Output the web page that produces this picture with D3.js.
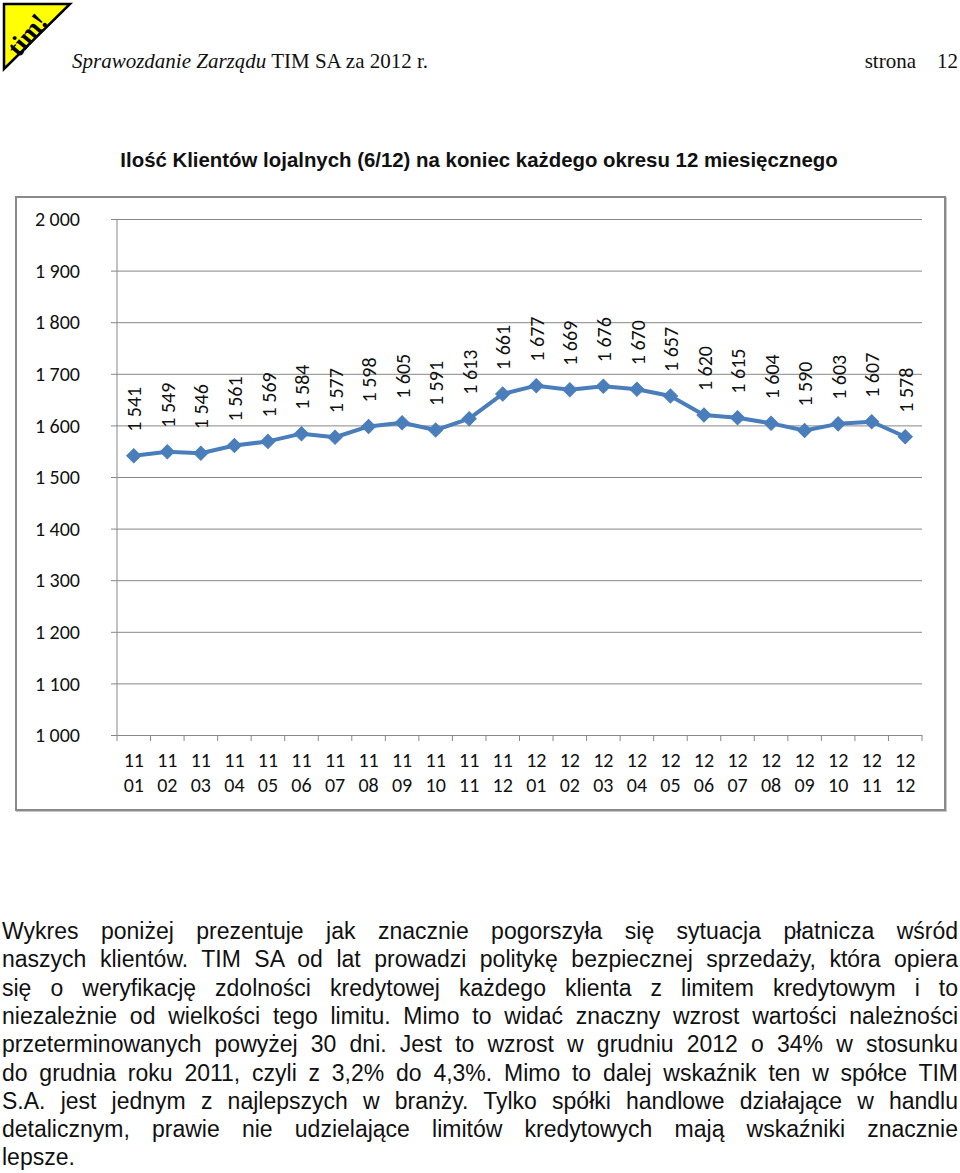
<!DOCTYPE html>
<html>
<head>
<meta charset="utf-8">
<script src="https://cdn.jsdelivr.net/npm/d3@7"></script>
<style>
  html, body { margin: 0; padding: 0; background: #fff; }
  svg { display: block; }
</style>
</head>
<body>
<div id="page"></div>
<script>
// data
var years  = ["11","11","11","11","11","11","11","11","11","11","11","11",
              "12","12","12","12","12","12","12","12","12","12","12","12"];
var months = ["01","02","03","04","05","06","07","08","09","10","11","12",
              "01","02","03","04","05","06","07","08","09","10","11","12"];
var loyalClients = [1541, 1549, 1546, 1561, 1569, 1584, 1577, 1598, 1605, 1591, 1613, 1661,
                    1677, 1669, 1676, 1670, 1657, 1620, 1615, 1604, 1590, 1603, 1607, 1578];
var yTicks = [1000, 1100, 1200, 1300, 1400, 1500, 1600, 1700, 1800, 1900, 2000];

var chartTitle = "Ilość Klientów lojalnych (6/12) na koniec każdego okresu 12 miesięcznego";
var paragraphLines = [
  "Wykres poniżej prezentuje jak znacznie pogorszyła się sytuacja płatnicza wśród",
  "naszych klientów. TIM SA od lat prowadzi politykę bezpiecznej sprzedaży, która opiera",
  "się o weryfikację zdolności kredytowej każdego klienta z limitem kredytowym i to",
  "niezależnie od wielkości tego limitu. Mimo to widać znaczny wzrost wartości należności",
  "przeterminowanych powyżej 30 dni. Jest to wzrost w grudniu 2012 o 34% w stosunku",
  "do grudnia roku 2011, czyli z 3,2% do 4,3%. Mimo to dalej wskaźnik ten w spółce TIM",
  "S.A. jest jednym z najlepszych w branży. Tylko spółki handlowe działające w handlu",
  "detalicznym, prawie nie udzielające limitów kredytowych mają wskaźniki znacznie",
  "lepsze."
];

var categories = years.map(function(d, i){ return d + " " + months[i]; });

// constants
var WIDTH = 960, HEIGHT = 1173;
var PLOT = {left: 117, right: 922, top: 219, bottom: 735};
var LINE_COLOR = "#4a7ebb";
var GRID_COLOR = "#878787";
var CHART_FONT = "Carlito, Calibri, Lato, sans-serif";
var CHART_FONT_SIZE = 20;

var svg = d3.select("#page").append("svg")
    .attr("width", WIDTH)
    .attr("height", HEIGHT);

// --- page header: logo, running title, page number
var logo = svg.append("g");
logo.append("path")
    .attr("d", "M4,4 L70,4 L4,69 Z")
    .attr("fill", "#ffff00")
    .attr("stroke", "#000")
    .attr("stroke-width", 2.5)
    .attr("stroke-linejoin", "miter");
logo.append("text")
    .attr("transform", "translate(19,58) rotate(-50)")
    .attr("font-family", "Liberation Serif, serif")
    .attr("font-weight", "bold")
    .attr("font-size", 26)
    .attr("fill", "#000")
    .text("tim!");

var header = svg.append("text")
    .attr("x", 72)
    .attr("y", 68)
    .attr("font-family", "Liberation Serif, serif")
    .attr("font-size", 21)
    .attr("fill", "#111");
header.append("tspan").attr("font-style", "italic").text("Sprawozdanie Zarządu");
header.append("tspan").text(" TIM SA za 2012 r.");

svg.append("text")
    .attr("x", 958)
    .attr("y", 68)
    .attr("text-anchor", "end")
    .attr("font-family", "Liberation Serif, serif")
    .attr("font-size", 21)
    .attr("fill", "#111")
    .attr("xml:space", "preserve")
    .text("strona    12");

// --- chart title
svg.append("text")
    .attr("x", 479)
    .attr("y", 167)
    .attr("text-anchor", "middle")
    .attr("font-family", "Liberation Sans, Arial, sans-serif")
    .attr("font-weight", "bold")
    .attr("font-size", 20.4)
    .attr("fill", "#111")
    .text(chartTitle);

// --- chart frame
svg.append("rect")
    .attr("x", 17).attr("y", 198)
    .attr("width", 929).attr("height", 613)
    .attr("fill", "none")
    .attr("stroke", "#c8c8c8")
    .attr("stroke-width", 2);
svg.append("rect")
    .attr("x", 16).attr("y", 197)
    .attr("width", 929).attr("height", 613)
    .attr("fill", "#fff")
    .attr("stroke", "#8a8a8a")
    .attr("stroke-width", 2);

// scales
var x = d3.scaleBand()
    .domain(categories)
    .range([PLOT.left, PLOT.right]);

var y = d3.scaleLinear()
    .domain([1000, 2000])
    .range([PLOT.bottom, PLOT.top]);

var fmt = function(v){ return d3.format(",")(v).replace(/,/g, " "); };

// gridlines + y labels
var yAxis = d3.axisLeft(y)
    .tickValues(yTicks)
    .tickSize(-(PLOT.right - PLOT.left + 6))
    .tickPadding(31)
    .tickFormat(fmt);

var gy = svg.append("g")
    .attr("transform", "translate(" + (PLOT.left - 6) + ",0)")
    .call(yAxis);
gy.select(".domain").remove();
gy.selectAll(".tick line")
    .attr("stroke", GRID_COLOR)
    .attr("stroke-width", 1);
gy.selectAll(".tick text")
    .attr("font-family", CHART_FONT)
    .attr("font-size", CHART_FONT_SIZE)
    .attr("fill", "#111")
    .attr("dy", "0.33em");

// y axis line
svg.append("line")
    .attr("x1", PLOT.left).attr("x2", PLOT.left)
    .attr("y1", y(2000)).attr("y2", y(1000))
    .attr("stroke", GRID_COLOR);

// x axis: ticks at category boundaries
var boundaries = categories.map(function(c){ return x(c); }).concat([x.range()[1]]);
svg.append("g").selectAll("line")
    .data(boundaries)
  .enter().append("line")
    .attr("x1", function(d){ return d; })
    .attr("x2", function(d){ return d; })
    .attr("y1", y(1000))
    .attr("y2", y(1000) + 6)
    .attr("stroke", GRID_COLOR);

var xLabels = svg.append("g").selectAll("text")
    .data(categories)
  .enter().append("text")
    .attr("text-anchor", "middle")
    .attr("font-family", CHART_FONT)
    .attr("font-size", CHART_FONT_SIZE)
    .attr("fill", "#111");
xLabels.append("tspan")
    .attr("x", function(d){ return x(d) + x.bandwidth() / 2; })
    .attr("y", 767)
    .text(function(d){ return d.split(" ")[0]; });
xLabels.append("tspan")
    .attr("x", function(d){ return x(d) + x.bandwidth() / 2; })
    .attr("y", 792)
    .text(function(d){ return d.split(" ")[1]; });

// series line
var cx = function(d, i){ return x(categories[i]) + x.bandwidth() / 2; };
var line = d3.line()
    .x(cx)
    .y(function(d){ return y(d); });

svg.append("path")
    .datum(loyalClients)
    .attr("d", line)
    .attr("fill", "none")
    .attr("stroke", LINE_COLOR)
    .attr("stroke-width", 4)
    .attr("stroke-linejoin", "round");

// diamond markers
svg.append("g").selectAll("path")
    .data(loyalClients)
  .enter().append("path")
    .attr("d", d3.symbol(d3.symbolSquare, 100))
    .attr("transform", function(d, i){
        return "translate(" + cx(d, i) + "," + y(d) + ") rotate(45)";
    })
    .attr("fill", LINE_COLOR)
    .attr("stroke", LINE_COLOR)
    .attr("stroke-width", 1);

// data labels, rotated
svg.append("g").selectAll("text")
    .data(loyalClients)
  .enter().append("text")
    .attr("transform", function(d, i){
        return "translate(" + (cx(d, i) + 1) + "," + (y(d) - 24) + ") rotate(-90)";
    })
    .attr("dy", "0.33em")
    .attr("font-family", CHART_FONT)
    .attr("font-size", CHART_FONT_SIZE)
    .attr("fill", "#111")
    .text(fmt);

// --- justified paragraph under the chart
var PARA_X = 2, PARA_W = 956, PARA_Y0 = 939, PARA_LH = 28.3;
var para = svg.append("g")
    .attr("font-family", "Liberation Sans, Arial, sans-serif")
    .attr("font-size", 23)
    .attr("fill", "#111");

para.selectAll("text")
    .data(paragraphLines)
  .enter().append("text")
    .attr("x", PARA_X)
    .attr("y", function(d, i){ return PARA_Y0 + i * PARA_LH; })
    .text(function(d){ return d; })
    .each(function(d, i){
        if (i === paragraphLines.length - 1) return;
        var gaps = d.split(" ").length - 1;
        var extra = (PARA_W - this.getComputedTextLength()) / gaps;
        d3.select(this).attr("word-spacing", extra);
    });
</script>
</body>
</html>
